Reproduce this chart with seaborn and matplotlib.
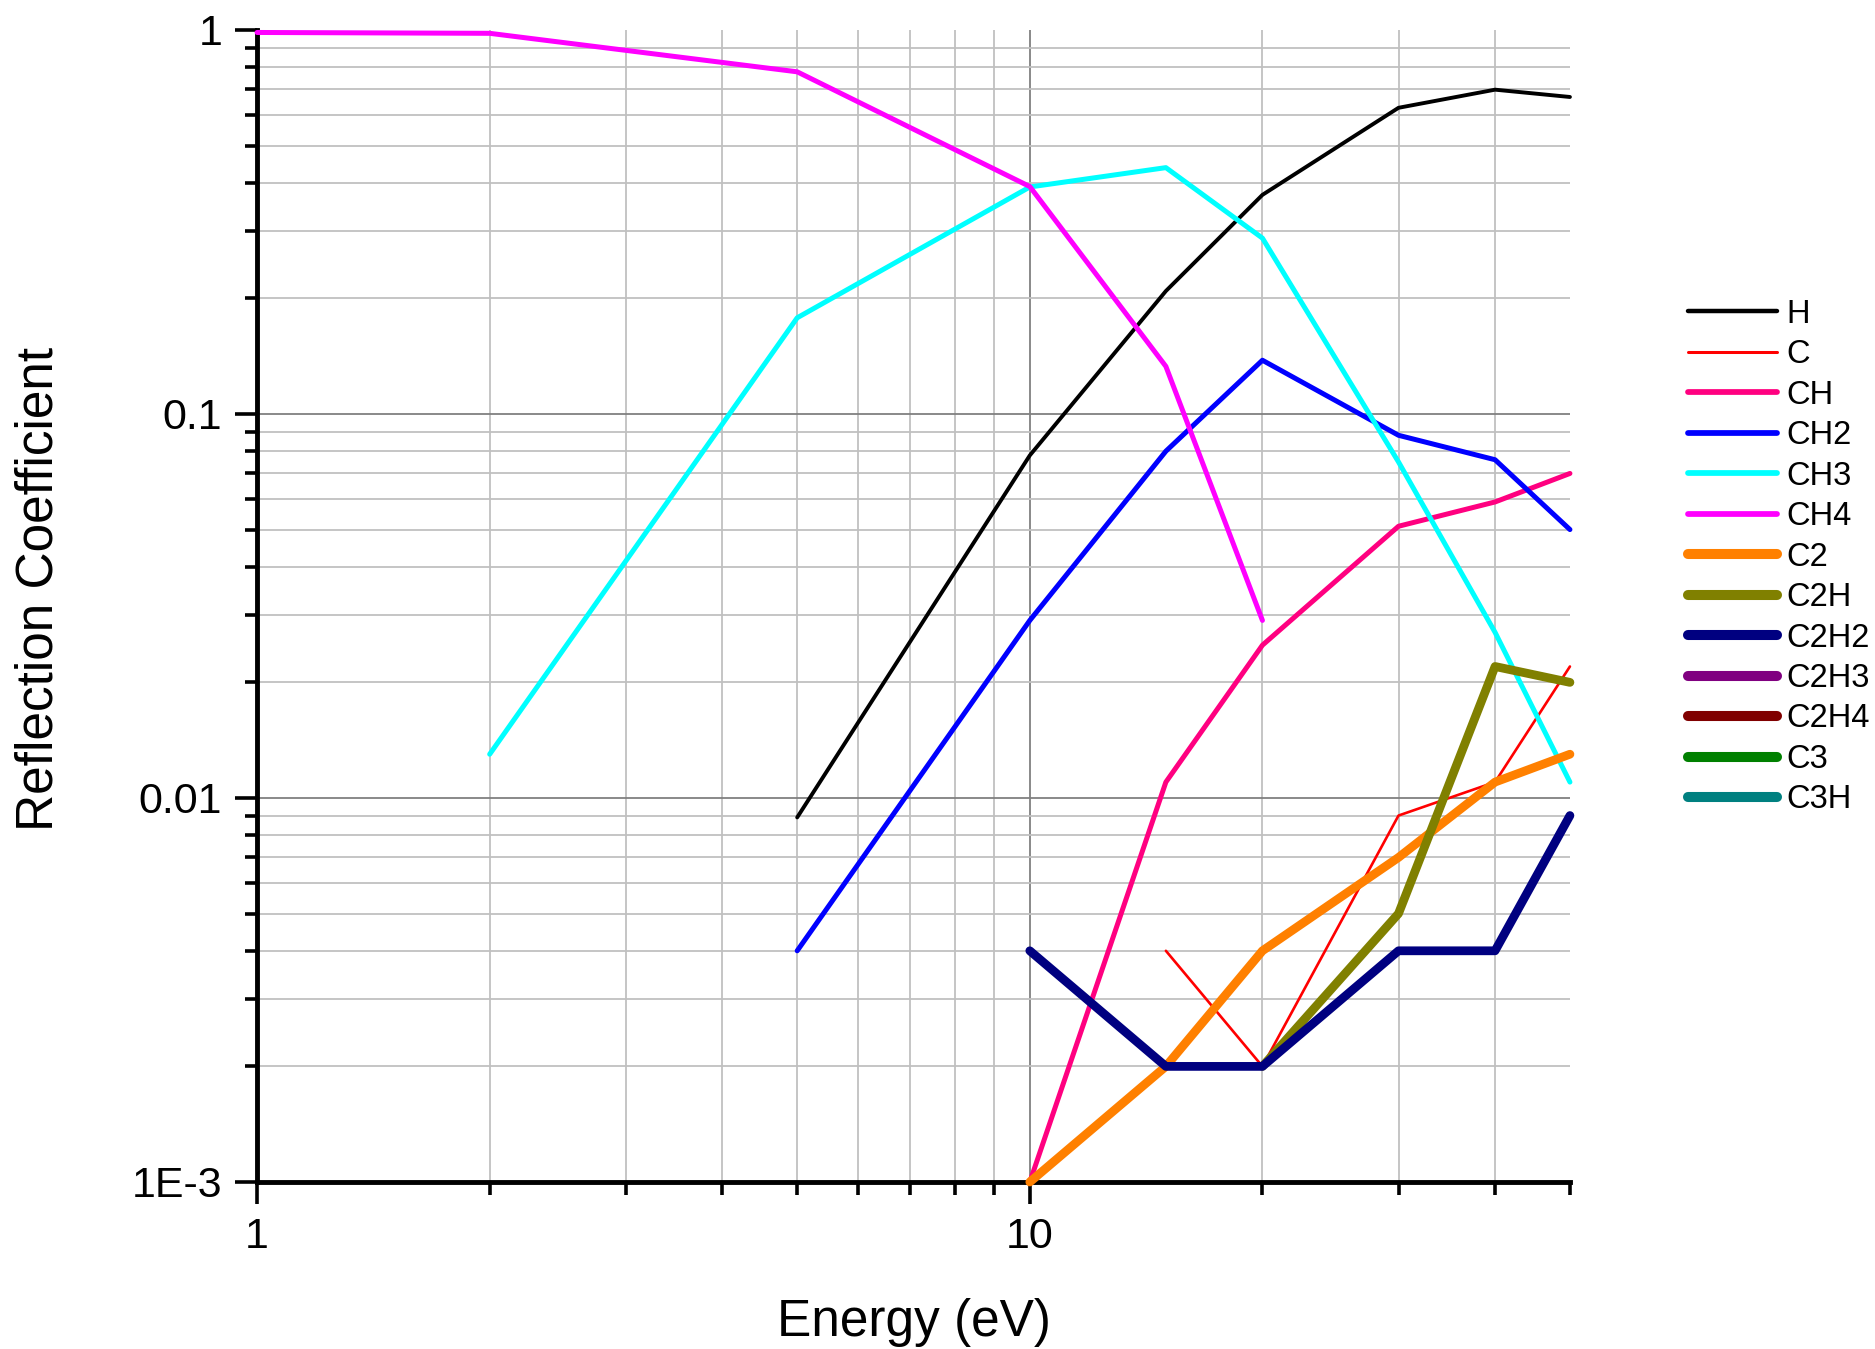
import numpy as np
import pandas as pd
import seaborn as sns
import matplotlib
matplotlib.use("Agg")
import matplotlib.pyplot as plt
from matplotlib.ticker import FixedLocator, FixedFormatter, LogLocator, NullFormatter

# Incident energy (eV)
energy = [1, 2, 5, 10, 15, 20, 30, 40, 50]

nan = np.nan
# Reflection coefficient per reflected species (nan = not observed)
refl_h = [nan, nan, 0.0089, 0.078, 0.209, 0.372, 0.627, 0.699, 0.669]
refl_c = [nan, nan, nan, nan, 0.004, 0.002, 0.009, 0.011, 0.022]
refl_ch = [nan, nan, nan, 0.001, 0.011, 0.025, 0.051, 0.059, 0.070]
refl_ch2 = [nan, nan, 0.004, 0.029, 0.080, 0.138, 0.088, 0.076, 0.050]
refl_ch3 = [nan, 0.013, 0.178, 0.390, 0.438, 0.287, 0.075, 0.027, 0.011]
refl_ch4 = [0.985, 0.980, 0.778, 0.391, 0.133, 0.029, nan, nan, nan]
refl_c2 = [nan, nan, nan, 0.001, 0.002, 0.004, 0.007, 0.011, 0.013]
refl_c2h = [nan, nan, nan, nan, nan, 0.002, 0.005, 0.022, 0.020]
refl_c2h2 = [nan, nan, nan, 0.004, 0.002, 0.002, 0.004, 0.004, 0.009]
refl_c2h3 = [nan] * 9
refl_c2h4 = [nan] * 9
refl_c3 = [nan] * 9
refl_c3h = [nan] * 9

species = ["H", "C", "CH", "CH2", "CH3", "CH4", "C2", "C2H", "C2H2",
           "C2H3", "C2H4", "C3", "C3H"]
series = [refl_h, refl_c, refl_ch, refl_ch2, refl_ch3, refl_ch4, refl_c2,
          refl_c2h, refl_c2h2, refl_c2h3, refl_c2h4, refl_c3, refl_c3h]
colors = ["#000000", "#ff0000", "#ff0080", "#0000ff", "#00ffff", "#ff00ff",
          "#ff8000", "#808000", "#000080", "#800080", "#800000", "#008000",
          "#008080"]
widths = [2.8, 1.9, 3.6, 3.6, 3.6, 3.6, 6.3, 6.3, 6.3, 6.3, 6.3, 6.3, 6.3]

y_tick_vals = [0.001, 0.01, 0.1, 1]
y_tick_text = ["1E-3", "0.01", "0.1", "1"]
x_tick_vals = [1, 10]
x_tick_text = ["1", "10"]

sns.set_style("white")
plt.rcParams["font.family"] = ["Liberation Sans", "DejaVu Sans"]
plt.rcParams["text.color"] = "black"
plt.rcParams["axes.labelcolor"] = "black"
plt.rcParams["xtick.color"] = "black"
plt.rcParams["ytick.color"] = "black"

fig = plt.figure(figsize=(18.75, 13.49), dpi=100)
ax = fig.add_axes([0.1371, 0.1238, 0.8373 - 0.1371, 0.9778 - 0.1238])
ax.set_xscale("log")
ax.set_yscale("log")

for name, vals, col, lw in zip(species, series, colors, widths):
    df = pd.DataFrame({"energy": energy, "coef": vals}).dropna()
    if df.empty:
        ax.plot([], [], color=col, lw=lw, label=name, solid_capstyle="round")
        continue
    sns.lineplot(data=df, x="energy", y="coef", ax=ax, color=col, lw=lw,
                 label=name, estimator=None, sort=True, errorbar=None,
                 solid_capstyle="round", solid_joinstyle="round",
                 clip_on=False, zorder=3)

ax.set_xlim(1, 50)
ax.set_ylim(1e-3, 1)

ax.xaxis.set_major_locator(FixedLocator(x_tick_vals))
ax.xaxis.set_major_formatter(FixedFormatter(x_tick_text))
ax.xaxis.set_minor_locator(LogLocator(base=10, subs=np.arange(2, 10)))
ax.xaxis.set_minor_formatter(NullFormatter())
ax.yaxis.set_major_locator(FixedLocator(y_tick_vals))
ax.yaxis.set_major_formatter(FixedFormatter(y_tick_text))
ax.yaxis.set_minor_locator(LogLocator(base=10, subs=np.arange(2, 10)))
ax.yaxis.set_minor_formatter(NullFormatter())

ax.set_axisbelow(True)
ax.grid(which="major", color="#808080", lw=1.3)
ax.grid(which="minor", color="#c0c0c0", lw=1.3)

for side in ["top", "right"]:
    ax.spines[side].set_visible(False)
for side in ["left", "bottom"]:
    ax.spines[side].set_color("black")
    ax.spines[side].set_linewidth(3.5)

ax.tick_params(which="major", direction="out", length=16, width=2.6,
               color="black", labelcolor="black", labelsize=31, pad=9,
               bottom=True, left=True)
ax.tick_params(which="minor", direction="out", length=9, width=2.6,
               color="black", bottom=True, left=True)

ax.set_xlabel("Energy (eV)", fontsize=37, va="baseline", color="black")
ax.xaxis.set_label_coords(0.5, -0.1337)
ax.set_ylabel("Reflection Coefficient", fontsize=37, va="center", color="black")
ax.yaxis.set_label_coords(-0.166, 0.515)

leg = ax.legend(loc="center left", bbox_to_anchor=(0.9003, 0.5870),
                bbox_transform=fig.transFigure, frameon=False, fontsize=23.5,
                handlelength=2.72, handletextpad=0.28, labelspacing=0.29,
                borderpad=0, borderaxespad=0)
for ln in leg.get_lines():
    ln.set_solid_capstyle("round")
    ln.set_linewidth(ln.get_linewidth() * 1.15)
for txt in leg.get_texts():
    txt.set_color("black")

fig.canvas.draw()
for t, loc in zip(ax.yaxis.get_major_ticks(), ax.yaxis.get_majorticklocs()):
    if loc >= 1:
        t.gridline.set_visible(False)
for t, loc in zip(ax.xaxis.get_minor_ticks(), ax.xaxis.get_minorticklocs()):
    if loc >= 50:
        t.gridline.set_visible(False)

fig.savefig("out.png", dpi=100)
